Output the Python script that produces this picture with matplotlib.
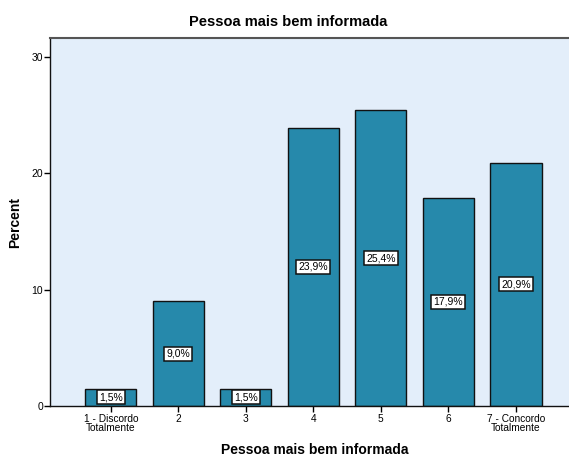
import matplotlib
matplotlib.use("Agg")
import matplotlib.pyplot as plt

plt.rcParams["font.family"] = ["Liberation Sans", "DejaVu Sans"]

categories = ["1 - Discordo\nTotalmente", "2", "3", "4", "5", "6", "7 - Concordo\nTotalmente"]
percent = [1.5, 9.0, 1.5, 23.9, 25.4, 17.9, 20.9]
value_labels = ["1,5%", "9,0%", "1,5%", "23,9%", "25,4%", "17,9%", "20,9%"]

BAR_COLOR = "#2689AB"
BG_COLOR = "#E3EEFA"

fig = plt.figure(figsize=(5.69, 4.58), dpi=100)
ax = fig.add_axes([50 / 569, 52 / 458, 530 / 569, 368 / 458])
ax.set_facecolor(BG_COLOR)

x = list(range(1, len(categories) + 1))
ax.bar(x, percent, width=0.76, color=BAR_COLOR, edgecolor="#111111", linewidth=1.0, zorder=2)

# value boxes sit halfway up each bar
for xi, v, lab in zip(x, percent, value_labels):
    ax.text(xi, v / 2, lab, ha="center", va="center", fontsize=7.5, zorder=3,
            bbox=dict(boxstyle="square,pad=0.2", facecolor="white", edgecolor="#111111", linewidth=1.1))

ax.set_xlim(0.1, 7.95)
ax.set_ylim(0, 31.6)
ax.set_yticks([0, 10, 20, 30])
ax.set_xticks(x)
ax.set_xticklabels(categories, fontsize=7.3, linespacing=0.85)
ax.tick_params(axis="y", labelsize=7.5, length=4, width=1.0, pad=1)
ax.tick_params(axis="x", length=4, width=1.0, pad=2)

for side in ["left", "bottom"]:
    ax.spines[side].set_color("#111111")
    ax.spines[side].set_linewidth(1.0)
ax.spines["top"].set_color("#555555")
ax.spines["top"].set_linewidth(1.5)
ax.spines["right"].set_visible(False)

ax.set_ylabel("Percent", fontsize=10, fontweight="bold", labelpad=7)
ax.set_xlabel("Pessoa mais bem informada", fontsize=10, fontweight="bold", labelpad=7)
fig.text(288 / 569, 1 - 22 / 458, "Pessoa mais bem informada", ha="center", va="center",
         fontsize=10.5, fontweight="bold")

fig.savefig("out.png", dpi=100, facecolor="white")
